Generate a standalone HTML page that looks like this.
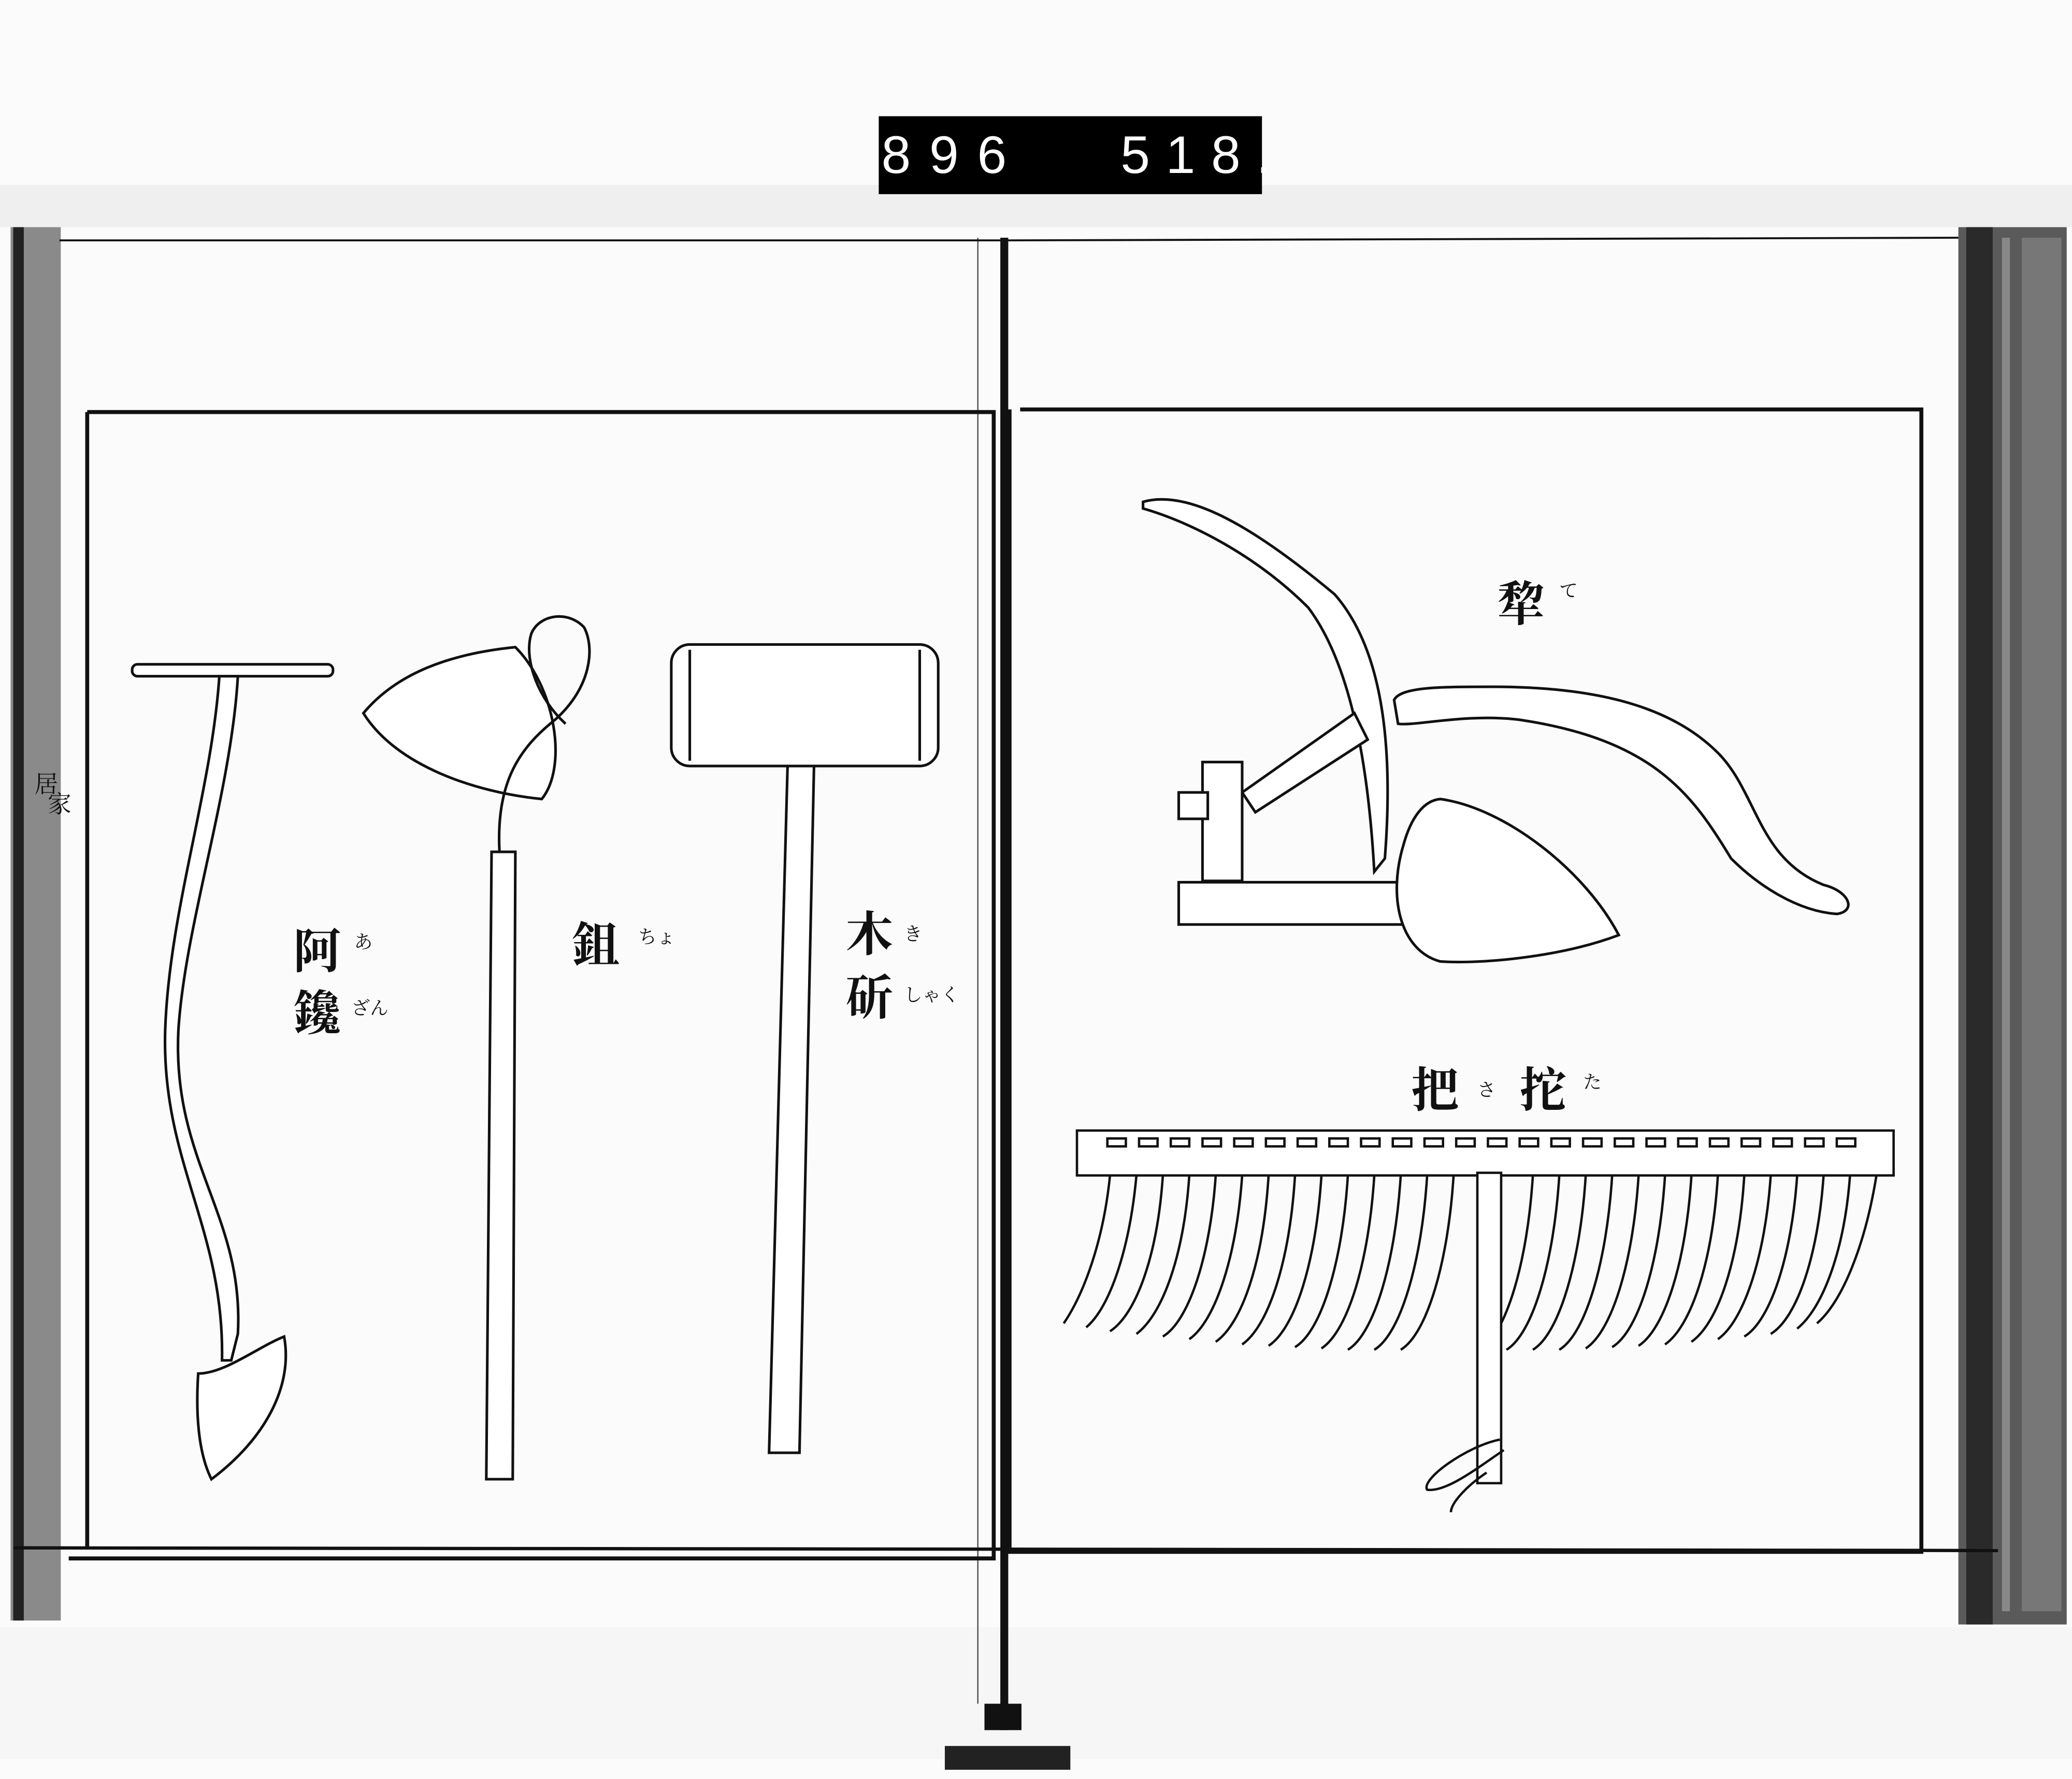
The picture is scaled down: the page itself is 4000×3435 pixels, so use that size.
<!DOCTYPE html>
<html><head><meta charset="utf-8"><style>
html,body{margin:0;padding:0;background:#fff;}
svg{display:block;width:4000px;height:3435px;}
text{font-family:"Liberation Serif","Noto Serif CJK SC","Noto Sans CJK JP",serif;fill:#111;}
</style></head><body>
<svg viewBox="0 0 1568 1347" preserveAspectRatio="none" xmlns="http://www.w3.org/2000/svg">
<rect width="1568" height="1347" fill="#fbfbfb"/>
<rect x="0" y="140" width="1568" height="32" fill="#ececec" opacity="0.8"/>
<rect x="665" y="88" width="290" height="59" fill="#000"/>
<text x="667" y="131" font-size="40" style="fill:#fff;font-family:'Liberation Sans',sans-serif" letter-spacing="14">896</text>
<text x="848" y="131" font-size="40" style="fill:#fff;font-family:'Liberation Sans',sans-serif" letter-spacing="12">518.</text>
<rect x="8" y="172" width="38" height="1055" fill="#8a8a8a"/>
<rect x="10" y="172" width="8" height="1055" fill="#222"/>
<rect x="1482" y="172" width="82" height="1058" fill="#5a5a5a"/>
<rect x="1488" y="172" width="20" height="1058" fill="#2a2a2a"/>
<rect x="1515" y="180" width="6" height="1040" fill="#888"/>
<rect x="1530" y="180" width="30" height="1040" fill="#777"/>
<rect x="0" y="1232" width="1568" height="100" fill="#f6f6f6"/>
<rect x="757" y="180" width="6" height="1130" fill="#111"/>
<rect x="745" y="1290" width="28" height="20" fill="#111"/>
<rect x="715" y="1322" width="95" height="18" fill="#222"/>
<line x1="740" y1="180" x2="740" y2="1290" stroke="#555" stroke-width="1"/>
<g fill="none" stroke="#111">
<path d="M66 312 H752 V1180 H52 " stroke-width="3"/>
<line x1="66" y1="312" x2="66" y2="1172" stroke-width="3"/>
<line x1="10" y1="1172" x2="1512" y2="1174" stroke-width="2.5"/>
<path d="M772 310 H1454 V1175 H764 V310" stroke-width="3"/>
<line x1="45" y1="182" x2="757" y2="182" stroke-width="1.5"/>
<line x1="763" y1="182" x2="1482" y2="180" stroke-width="1.5"/>
</g>
<g fill="#fff" stroke="#111" stroke-width="2">
<rect x="100" y="503" width="152" height="9" rx="4"/>
<path d="M166 512 L180 512 C175 600 140 700 135 780 C130 880 185 920 180 1010 L175 1030 L168 1030 C170 930 122 880 125 780 C128 690 160 600 166 512 Z"/>
<path d="M150 1040 C170 1040 195 1020 215 1012 C222 1050 200 1090 160 1120 C150 1100 148 1070 150 1040 Z"/>
<path d="M275 540 C300 510 340 495 390 490 C420 520 430 580 410 605 C360 600 300 580 275 540 Z"/>
<path d="M378 645 C375 590 395 565 420 545 C448 520 450 490 442 475 C430 462 408 465 402 480 C396 500 408 530 428 548" fill="none"/>
<path d="M372 645 L390 645 L388 1120 L368 1120 Z"/>
<rect x="508" y="488" width="202" height="92" rx="14"/>
<line x1="522" y1="492" x2="522" y2="576"/>
<line x1="696" y1="492" x2="696" y2="576"/>
<path d="M596 580 L616 580 L605 1100 L582 1100 Z"/>
<path d="M865 380 C900 370 950 400 1010 450 C1045 490 1055 560 1048 650 L1040 660 C1035 570 1020 500 990 460 C950 420 900 395 865 385 Z"/>
<path d="M1055 530 C1060 520 1090 520 1130 520 C1220 520 1270 540 1300 570 C1330 600 1330 650 1380 670 C1400 675 1405 690 1390 692 C1360 690 1330 670 1310 650 C1280 600 1250 560 1150 545 C1110 540 1070 550 1058 548 Z"/>
<path d="M940 600 L1025 540 L1035 560 L950 615 Z"/>
<rect x="910" y="577" width="30" height="90"/>
<rect x="892" y="600" width="22" height="20"/>
<rect x="892" y="668" width="170" height="32"/>
<path d="M1090 605 C1140 612 1200 660 1225 708 C1180 725 1120 730 1090 728 C1060 720 1050 680 1062 640 C1068 618 1078 606 1090 605 Z"/>
</g>
<g stroke="#111" stroke-width="1.8" fill="none">
<rect x="815" y="856" width="618" height="34" fill="#fff"/>
<rect x="838" y="862" width="14" height="6"/><rect x="862" y="862" width="14" height="6"/><rect x="886" y="862" width="14" height="6"/><rect x="910" y="862" width="14" height="6"/><rect x="934" y="862" width="14" height="6"/><rect x="958" y="862" width="14" height="6"/><rect x="982" y="862" width="14" height="6"/><rect x="1006" y="862" width="14" height="6"/><rect x="1030" y="862" width="14" height="6"/><rect x="1054" y="862" width="14" height="6"/><rect x="1078" y="862" width="14" height="6"/><rect x="1102" y="862" width="14" height="6"/><rect x="1126" y="862" width="14" height="6"/><rect x="1150" y="862" width="14" height="6"/><rect x="1174" y="862" width="14" height="6"/><rect x="1198" y="862" width="14" height="6"/><rect x="1222" y="862" width="14" height="6"/><rect x="1246" y="862" width="14" height="6"/><rect x="1270" y="862" width="14" height="6"/><rect x="1294" y="862" width="14" height="6"/><rect x="1318" y="862" width="14" height="6"/><rect x="1342" y="862" width="14" height="6"/><rect x="1366" y="862" width="14" height="6"/><rect x="1390" y="862" width="14" height="6"/>
<path d="M840 890 C835 940 820 980 805 1002 M860 890 C855 945 840 990 822 1005 M880 890 C876 950 860 995 840 1008 M900 890 C896 950 880 995 860 1010 M920 890 C916 950 900 1000 880 1012 M940 890 C936 950 920 1000 900 1014 M960 890 C956 955 940 1002 920 1016 M980 890 C976 955 960 1004 940 1018 M1000 890 C996 955 980 1006 960 1019 M1020 890 C1016 955 1000 1008 980 1020 M1040 890 C1036 955 1020 1008 1000 1021 M1060 890 C1056 955 1040 1010 1020 1022 M1080 890 C1076 955 1060 1010 1040 1022 M1100 890 C1096 955 1080 1010 1060 1022 M1160 890 C1156 955 1140 1010 1120 1022 M1180 890 C1176 955 1160 1010 1140 1022 M1200 890 C1196 955 1180 1010 1160 1022 M1220 890 C1216 955 1200 1010 1180 1022 M1240 890 C1236 955 1220 1008 1200 1021 M1260 890 C1256 955 1240 1008 1220 1020 M1280 890 C1276 955 1260 1006 1240 1019 M1300 890 C1296 955 1280 1004 1260 1018 M1320 890 C1316 955 1300 1002 1280 1016 M1340 890 C1336 950 1320 1000 1300 1014 M1360 890 C1356 950 1340 1000 1320 1012 M1380 890 C1376 950 1360 998 1340 1010 M1400 890 C1396 945 1380 990 1360 1006 M1420 890 C1412 940 1395 985 1375 1002"/>
<rect x="1118" y="888" width="18" height="235" fill="#fff"/>
<path d="M1135 1090 C1110 1095 1075 1120 1080 1128 C1095 1130 1120 1110 1138 1098 M1125 1115 C1110 1125 1098 1138 1098 1145"/>
</g>
<g font-size="36" font-weight="bold">
<text x="222" y="733">阿</text><text x="222" y="780">鑱</text>
<text x="433" y="728">鉏</text>
<text x="640" y="720">木</text><text x="640" y="768">斫</text>
<text x="1133" y="470">犂</text>
<text x="1068" y="838">把</text><text x="1150" y="838">拕</text>
</g>
<g font-size="14">
<text x="268" y="718">あ</text><text x="266" y="768">ざん</text>
<text x="483" y="714">ちょ</text>
<text x="684" y="712">き</text><text x="684" y="758">しゃく</text>
<text x="1180" y="452">て</text>
<text x="1118" y="830">さ</text><text x="1198" y="824">た</text>
</g>
<g font-size="18" fill="#333"><text x="26" y="600">居</text><text x="36" y="615">家</text></g>
</svg>
</body></html>
